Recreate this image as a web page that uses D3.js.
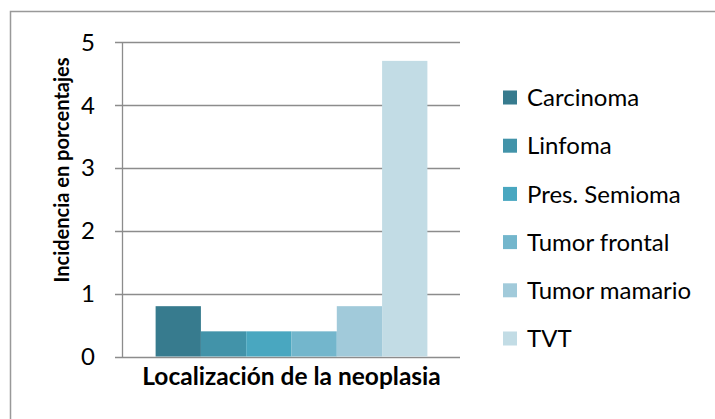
<!DOCTYPE html>
<html><head><meta charset="utf-8">
<script src="https://cdn.jsdelivr.net/npm/d3@7"></script>
<style>
html,body{margin:0;padding:0;background:#fff;}
svg{display:block;font-family:Lato,"Open Sans",sans-serif;}
</style></head>
<body><svg id="c" width="715" height="419"></svg>
<script>
const group = ["Localización de la neoplasia"];
const series = ["Carcinoma","Linfoma","Pres. Semioma","Tumor frontal","Tumor mamario","TVT"];
const values = [0.8,0.4,0.4,0.4,0.8,4.7];
const colors = ["#377B8E","#4293A9","#49A7C0","#73B6CC","#A1CADA","#C2DCE5"];
const yTicks = [0,1,2,3,4,5];
const yTitle = "Incidencia en porcentajes";

const svg = d3.select("#c");
// chart frame
svg.append("rect").attr("x",10.5).attr("y",11.5).attr("width",720).attr("height",420)
  .attr("fill","none").attr("stroke","#999").attr("stroke-width",1.5);

const plot = {left:123, right:460, top:42, bottom:356.5};
const y = d3.scaleLinear().domain([0,5]).range([plot.bottom, plot.top]);
const x0 = d3.scaleBand().domain(group).range([plot.left, plot.right]).paddingOuter(0.12).paddingInner(0);
const x1 = d3.scaleBand().domain(series).range([0, x0.bandwidth()]).padding(0);

// gridlines
svg.append("g").selectAll("line").data(yTicks).join("line")
  .attr("x1",plot.left-8).attr("x2",plot.right)
  .attr("y1",d=>Math.round(y(d))+0.5).attr("y2",d=>Math.round(y(d))+0.5)
  .attr("stroke","#8c8c8c").attr("stroke-width",1.3);

// bars
const g = svg.append("g").attr("transform",`translate(${x0(group[0])},0)`);
g.selectAll("rect").data(series).join("rect")
  .attr("x",d=>x1(d)).attr("width",x1.bandwidth())
  .attr("y",(d,i)=>y(values[i])).attr("height",(d,i)=>y(0)-y(values[i]))
  .attr("fill",(d,i)=>colors[i]);

// y axis line
svg.append("line").attr("x1",plot.left-0.5).attr("x2",plot.left-0.5)
  .attr("y1",plot.top).attr("y2",plot.bottom+1)
  .attr("stroke","#8c8c8c").attr("stroke-width",1.3);

// y tick labels
svg.append("g").selectAll("text").data(yTicks).join("text")
  .attr("x",95).attr("y",d=>y(d)).attr("dy","0.36em")
  .attr("text-anchor","end").attr("font-size",24).attr("fill","#000")
  .text(d=>d);

// y title
svg.append("text").attr("transform",`translate(69,170) rotate(-90)`)
  .attr("text-anchor","middle").attr("font-size",20).attr("font-weight","bold")
  .text(yTitle);

// x category label
svg.append("text").attr("x",x0(group[0])+x0.bandwidth()/2).attr("y",385)
  .attr("text-anchor","middle").attr("font-size",24.5).attr("font-weight","bold")
  .text(group[0]);

// legend
const leg = svg.append("g").selectAll("g").data(series).join("g")
  .attr("transform",(d,i)=>`translate(503,${97.5+i*48.2})`);
leg.append("rect").attr("x",0).attr("y",-7).attr("width",14).attr("height",14)
  .attr("fill",(d,i)=>colors[i]);
leg.append("text").attr("x",24).attr("y",0).attr("dy","0.36em")
  .attr("font-size",24).text(d=>d);
</script></body></html>
